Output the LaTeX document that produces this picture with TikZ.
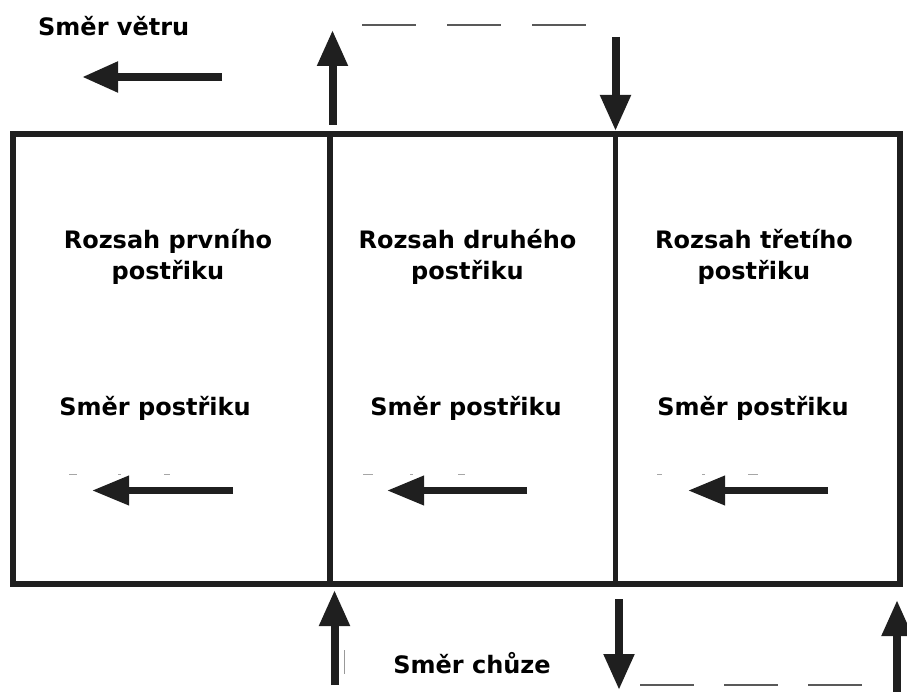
\documentclass[tikz,border=0pt]{standalone}
\usepackage{fontspec}
\setmainfont{DejaVu Sans}
\usetikzlibrary{arrows.meta}
\tikzset{
  frame/.style={line width=5.5pt, line join=miter, draw=black!88},
  bigarrow/.style={line width=8pt, draw=black!88, -{Triangle[length=36pt,width=29pt]}},
  innerarrow/.style={line width=7pt, draw=black!88, -{Triangle[length=37pt,width=28pt]}},
  pathdash/.style={line width=1.8pt, draw=black!65, dash pattern=on 54pt off 31pt},
  speck/.style={line width=1.8pt, draw=black!35},
  lbl/.style={font=\bfseries\fontsize{24}{31}\selectfont, inner sep=0pt, anchor=base, align=center},
}
\begin{document}
\begin{tikzpicture}[x=1pt,y=-1pt]
\useasboundingbox (0,0) rectangle (907,692);
% field
\coordinate (TL) at (13,134);
\coordinate (BR) at (900,584);
\draw[frame] (TL) rectangle (BR);
\coordinate (D1t) at (330,134); \coordinate (D1b) at (330,584);
\coordinate (D2t) at (615.5,134); \coordinate (D2b) at (615.5,584);
\draw[frame] (D1t) -- (D1b);
\draw[frame] (D2t) -- (D2b);
% wind
\node[lbl, anchor=base west] (wind) at (38,36) {Směr větru};
\coordinate (w1) at (222,77); \coordinate (w2) at (82,77);
\draw[bigarrow] (w1) -- (w2);
% top walking path
\coordinate (ta1) at (332.5,125); \coordinate (ta2) at (332.5,30);
\draw[bigarrow] (ta1) -- (ta2);
\coordinate (td1) at (362,25); \coordinate (td2) at (590,25);
\draw[pathdash] (td1) -- (td2);
\coordinate (tb1) at (615.5,37); \coordinate (tb2) at (615.5,131);
\draw[bigarrow] (tb1) -- (tb2);
% bottom walking path
\coordinate (ba1) at (334.5,685); \coordinate (ba2) at (334.5,590);
\draw[bigarrow] (ba1) -- (ba2);
\coordinate (g1) at (344,650); \coordinate (g2) at (344,674);
\draw[line width=1pt, draw=black!40] (g1) -- (g2);
\coordinate (bb1) at (619,599); \coordinate (bb2) at (619,690);
\draw[bigarrow] (bb1) -- (bb2);
\coordinate (bd1) at (640,685); \coordinate (bd2) at (868,685);
\draw[pathdash, dash pattern=on 54pt off 30pt] (bd1) -- (bd2);
\coordinate (bc1) at (897,700); \coordinate (bc2) at (897,600);
\draw[bigarrow] (bc1) -- (bc2);
\node[lbl] (walk) at (472,673) {Směr chůze};
% box texts
\node[lbl] (r1) at (168,280) {Rozsah prvního\\postřiku};
\node[lbl] (r2) at (467.5,280) {Rozsah druhého\\postřiku};
\node[lbl] (r3) at (754,280) {Rozsah třetího\\postřiku};
\node[lbl] (s1) at (155,415) {Směr postřiku};
\node[lbl] (s2) at (466,415) {Směr postřiku};
\node[lbl] (s3) at (753,415) {Směr postřiku};
% spray arrows
\coordinate (a1s) at (233,490.5); \coordinate (a1e) at (92,490.5);
\coordinate (a2s) at (527,490.5); \coordinate (a2e) at (387,490.5);
\coordinate (a3s) at (828,490.5); \coordinate (a3e) at (688,490.5);
\draw[innerarrow] (a1s) -- (a1e);
\draw[innerarrow] (a2s) -- (a2e);
\draw[innerarrow] (a3s) -- (a3e);
% faint specks above spray arrows
\foreach \xa/\xb in {69/77,118/121,164/170,363/373,410/413,458/465,657/662,702/705,748/758}{
  \draw[speck] (\xa,474.5) -- (\xb,474.5);
}
\end{tikzpicture}
\end{document}
